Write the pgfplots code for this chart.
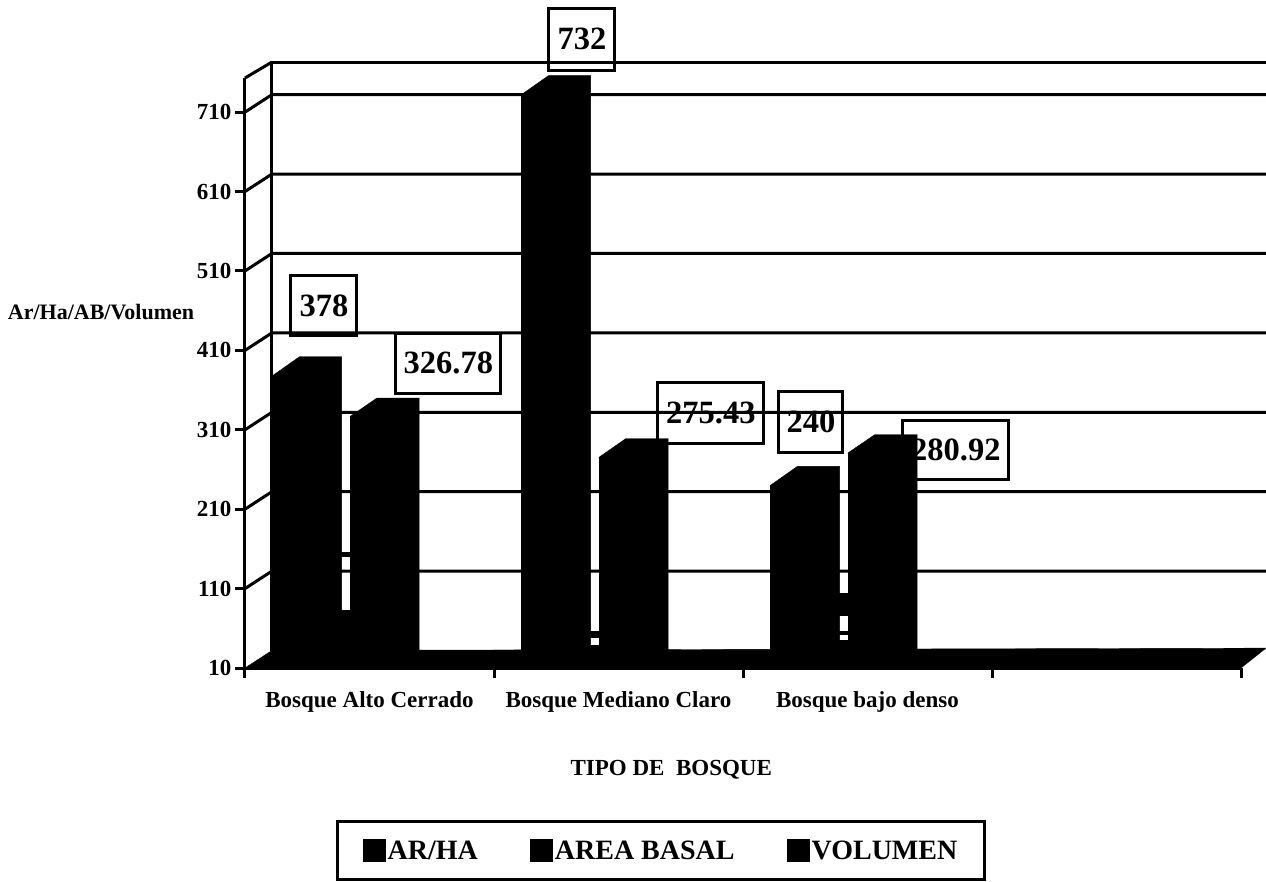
\documentclass[border=0pt]{standalone}
\usepackage{pgfplots}
\usepackage{pgfplotstable}
\usepackage{fontspec}
\setmainfont{Liberation Serif}
\pgfplotsset{compat=1.18}

% group centre, then one column per series
\pgfplotstableread{
x   arha  basal   volumen
0.5 378   326.78  10
1.5 732   275.43  10
2.5 240   280.92  10
}\bosque

\newcommand{\fs}[1]{\fontsize{#1}{#1}\selectfont\bfseries}

\begin{document}
\begin{tikzpicture}
\useasboundingbox (0,0) rectangle (1266pt,881pt);
\begin{axis}[
    at={(245pt,213pt)},
    anchor=south west,
    scale only axis,
    width=996pt,
    height=590pt,
    xmin=0, xmax=4,
    ymin=10, ymax=753,
    clip=false,
    axis x line=bottom,
    axis y line=left,
    axis line style={-, line width=3pt},
    tick style={black, line width=3pt},
    major tick length=10pt,
    tick align=outside,
    xtick={0,1,2,3,4},
    xticklabel=\empty,
    extra x ticks={0.5,1.5,2.5},
    extra x tick labels={Bosque Alto Cerrado,Bosque Mediano Claro,Bosque bajo denso},
    extra x tick style={major tick length=0pt, tick label style={font=\fs{23}, yshift=-20pt}},
    ytick={10,110,210,310,410,510,610,710},
    /pgf/number format/assume math mode=true,
    yticklabel style={font=\fs{23}},
    xlabel={TIPO DE\hspace{0.5em}BOSQUE},
    every axis x label/.style={at={(rel axis cs:0.428,0)}, anchor=center, yshift=-102pt, font=\fs{23}},
    ylabel={Ar/Ha/AB/Volumen},
    every axis y label/.style={at={(rel axis cs:0,0.603)}, anchor=center, xshift=-144pt, font=\fs{22}},
    legend columns=3,
    legend style={
        at={(rel axis cs:0.4177,0)}, anchor=north, yshift=-152pt,
        draw=black, line width=3pt, inner xsep=25pt, inner ysep=17pt,
        font=\fs{28},
        /tikz/every even column/.append style={column sep=50pt},
    },
]

% back wall
\addplot[forget plot, black, line width=3pt] coordinates {(0.108,32) (0.108,773) (4.10,773)};
\addplot[forget plot, black, line width=3pt] coordinates {(0,753) (0.108,773)};

% gridlines, front axis to back wall
\addplot[forget plot, black, line width=3pt] coordinates {(0,110) (0.108,132) (4.10,132)};
\addplot[forget plot, black, line width=3pt] coordinates {(0,210) (0.108,232) (4.10,232)};
\addplot[forget plot, black, line width=3pt] coordinates {(0,310) (0.108,332) (4.10,332)};
\addplot[forget plot, black, line width=3pt] coordinates {(0,410) (0.108,432) (4.10,432)};
\addplot[forget plot, black, line width=3pt] coordinates {(0,510) (0.108,532) (4.10,532)};
\addplot[forget plot, black, line width=3pt] coordinates {(0,610) (0.108,632) (4.10,632)};
\addplot[forget plot, black, line width=3pt] coordinates {(0,710) (0.108,732) (4.10,732)};

% floor
\addplot[forget plot, fill=black, draw=black] coordinates {(0,10) (0.108,32) (4.10,35) (4,10)} -- cycle;

% value boxes, behind the bars
\tikzset{valbox/.style={draw=black, line width=3pt, inner sep=0pt, font=\fs{32.5}}}
\node[valbox, minimum width=66pt, minimum height=60pt] at (axis cs:0.317,466) {378};
\node[valbox, minimum width=105pt, minimum height=60pt] at (axis cs:0.817,394) {326.78};
\node[valbox, minimum width=66pt, minimum height=62pt] at (axis cs:1.353,802) {732};
\node[valbox, minimum width=106pt, minimum height=61pt] at (axis cs:1.871,331) {275.43};
\node[valbox, minimum width=64pt, minimum height=61pt] at (axis cs:2.273,320) {240};
\node[valbox, minimum width=106pt, minimum height=59pt] at (axis cs:2.855,284) {280.92};

% bar fronts
\addplot[ybar, bar width=42pt, bar shift=-76pt, fill=black, draw=black,
    legend image code/.code={\fill[black] (0pt,-10pt) rectangle (20pt,10pt);}]
    table[x=x, y=arha] {\bosque};
\addlegendentry{AR/HA}
\addplot[ybar, bar width=42pt, bar shift=1.5pt, fill=black, draw=black,
    legend image code/.code={\fill[black] (0pt,-10pt) rectangle (20pt,10pt);}]
    table[x=x, y=basal] {\bosque};
\addlegendentry{AREA BASAL}
\addplot[ybar, bar width=42pt, bar shift=77pt, fill=black, draw=black,
    legend image code/.code={\fill[black] (0pt,-10pt) rectangle (20pt,10pt);}]
    table[x=x, y=volumen] {\bosque};
\addlegendentry{VOLUMEN}

% bar tops and sides
\addplot[forget plot, fill=black, draw=black] coordinates {(0.110,378) (0.219,402) (0.388,402) (0.388,32) (0.279,10) (0.279,378)} -- cycle;
\addplot[forget plot, fill=black, draw=black] coordinates {(1.110,732) (1.219,756) (1.388,756) (1.388,32) (1.279,10) (1.279,732)} -- cycle;
\addplot[forget plot, fill=black, draw=black] coordinates {(2.110,240) (2.219,264) (2.388,264) (2.388,32) (2.279,10) (2.279,240)} -- cycle;
\addplot[forget plot, fill=black, draw=black] coordinates {(0.422,326.78) (0.530,350) (0.699,350) (0.699,32) (0.590,10) (0.590,326.78)} -- cycle;
\addplot[forget plot, fill=black, draw=black] coordinates {(1.422,275.43) (1.530,299) (1.699,299) (1.699,32) (1.590,10) (1.590,275.43)} -- cycle;
\addplot[forget plot, fill=black, draw=black] coordinates {(2.422,280.92) (2.530,304) (2.699,304) (2.699,32) (2.590,10) (2.590,280.92)} -- cycle;

% what fills the gaps between the bars near the floor
\addplot[forget plot, fill=black, draw=black] coordinates {(0.388,10) (0.388,83) (0.422,83) (0.422,10)} -- cycle;
\addplot[forget plot, fill=black, draw=black] coordinates {(0.388,151) (0.388,156) (0.422,156) (0.422,151)} -- cycle;
\addplot[forget plot, fill=black, draw=black] coordinates {(1.388,10) (1.388,39) (1.422,39) (1.422,10)} -- cycle;
\addplot[forget plot, fill=black, draw=black] coordinates {(1.388,49) (1.388,56) (1.422,56) (1.422,49)} -- cycle;
\addplot[forget plot, fill=black, draw=black] coordinates {(2.388,10) (2.388,45) (2.422,45) (2.422,10)} -- cycle;
\addplot[forget plot, fill=black, draw=black] coordinates {(2.388,52) (2.388,56) (2.422,56) (2.422,52)} -- cycle;
\addplot[forget plot, fill=black, draw=black] coordinates {(2.388,77) (2.388,104) (2.422,104) (2.422,77)} -- cycle;

\end{axis}
\end{tikzpicture}
\end{document}
